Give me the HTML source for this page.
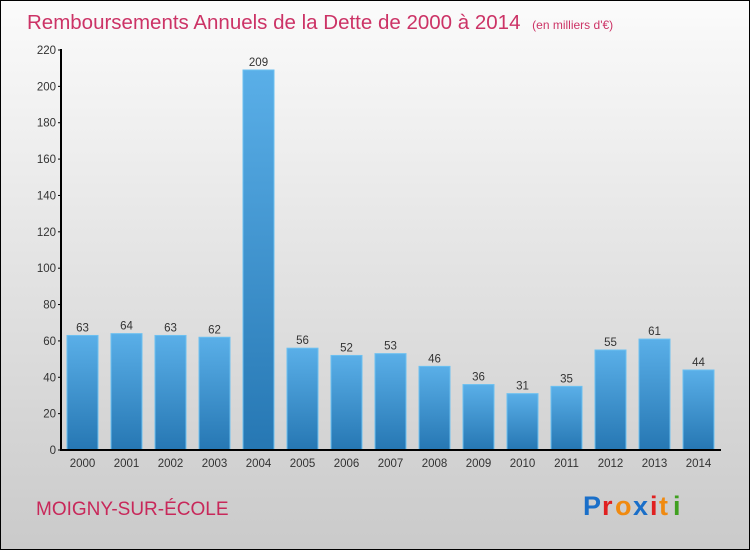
<!DOCTYPE html>
<html><head><meta charset="utf-8"><style>
body{margin:0;width:750px;height:550px;overflow:hidden;font-family:"Liberation Sans",sans-serif}
</style></head><body>
<svg width="750" height="550" xmlns="http://www.w3.org/2000/svg">
<defs>
<linearGradient id="bg" x1="0" y1="0" x2="0" y2="1"><stop offset="0" stop-color="#fbfbfb"/><stop offset="1" stop-color="#cacaca"/></linearGradient>
<linearGradient id="bar" x1="0" y1="0" x2="0" y2="1"><stop offset="0" stop-color="#5aafe8"/><stop offset="1" stop-color="#2677b3"/></linearGradient>
</defs>
<rect x="0.5" y="0.5" width="749" height="549" fill="url(#bg)" stroke="#000"/>
<text x="27" y="29" font-size="20.5" fill="#cc3366">Remboursements Annuels de la Dette de 2000 à 2014 <tspan font-size="12" dx="6">(en milliers d'€)</tspan></text>
<g id="plot"></g>
<text x="36" y="515" font-size="19" fill="#c8285a">MOIGNY-SUR-ÉCOLE</text>
<g font-size="27" font-weight="bold"><text x="583" y="515" fill="#1a6fc9">P</text><text x="602" y="515" fill="#e02020">r</text><text x="615" y="515" fill="#f08a10">o</text><text x="633" y="515" fill="#1a6fc9">x</text><text x="650" y="515" fill="#e02020">i</text><text x="659" y="515" fill="#f08a10">t</text><text x="673" y="515" fill="#40a020">i</text></g>
</svg>
<script>
const years=["2000","2001","2002","2003","2004","2005","2006","2007","2008","2009","2010","2011","2012","2013","2014"];
const values=[63,64,63,62,209,56,52,53,46,36,31,35,55,61,44];
const ticks=[0,20,40,60,80,100,120,140,160,180,200,220];
const NS="http://www.w3.org/2000/svg";
const g=document.getElementById('plot');
const y=v=>450-v*400/220;
const x=i=>67+i*44;
function mk(t,a){const e=document.createElementNS(NS,t);for(const k in a)e.setAttribute(k,a[k]);g.appendChild(e);return e;}
ticks.forEach(t=>{
 const l=mk('line',{x1:58,x2:62,y1:y(t),y2:y(t),stroke:'#000'});
 
 
 const tx=mk('text',{x:56,y:y(t)+4,'text-anchor':'end','font-size':11.5,fill:'#333'});tx.textContent=t;
 
 
});
values.forEach((v,i)=>{
 const r=mk('rect',{x:x(i),y:y(v),width:31,height:450-y(v),fill:'url(#bar)',stroke:'#6cc0f0','stroke-width':1});
 
 
 const lb=mk('text',{x:x(i)+15.5,y:y(v)-4,'text-anchor':'middle','font-size':11.5,fill:'#333'});lb.textContent=v;
 
 
 const xl=mk('text',{x:x(i)+15.5,y:467,'text-anchor':'middle','font-size':11.5,fill:'#333'});xl.textContent=years[i];
 
 
});
const ya=mk('line',{x1:61,x2:61,y1:y(220)-1,y2:451,stroke:'#000','stroke-width':2});


const xa=mk('line',{x1:60,x2:721,y1:450,y2:450,stroke:'#000','stroke-width':2});


</script>
</body></html>
